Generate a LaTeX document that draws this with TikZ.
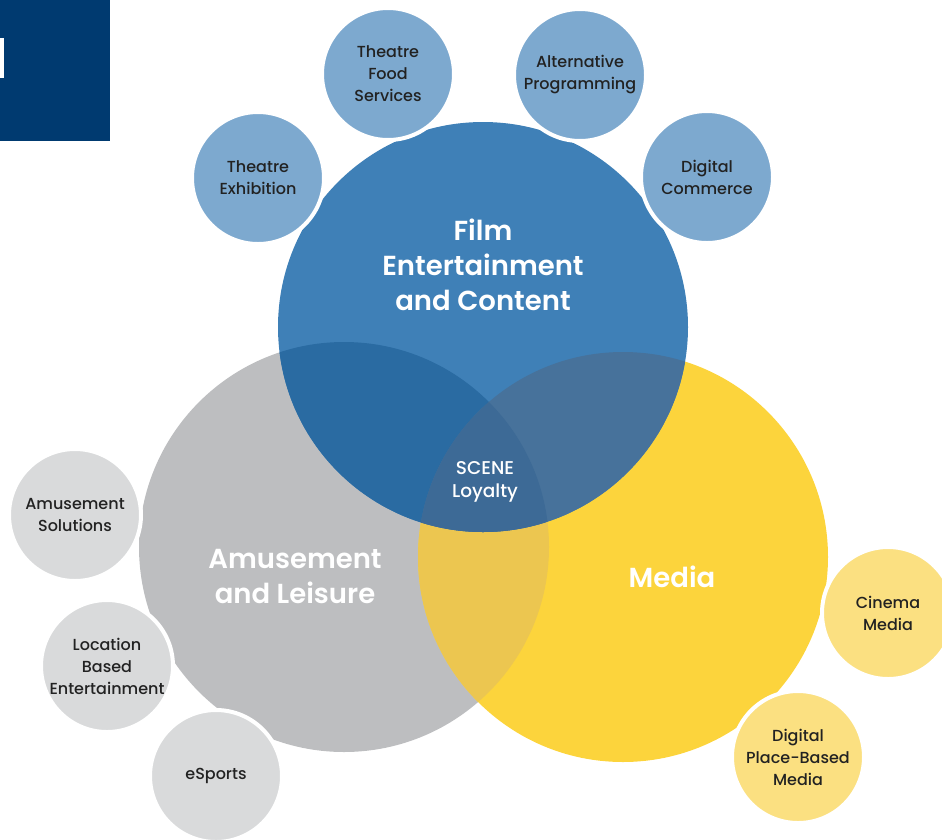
\documentclass[tikz,border=0pt]{standalone}
\usepackage{fontspec}
\setmainfont{Poppins}
\IfFontExistsTF{Poppins Medium}
  {\newfontfamily\medfont{Poppins Medium}}
  {\newfontfamily\medfont{Poppins}[FakeBold=1.2]}
\IfFontExistsTF{Poppins SemiBold}
  {\newfontfamily\semifont{Poppins SemiBold}}
  {\newfontfamily\semifont{Poppins}[FakeBold=2.2]}
\usetikzlibrary{positioning}

\definecolor{navy}{HTML}{003A70}
\definecolor{filmblue}{HTML}{3F80B7}
\definecolor{leisgray}{HTML}{BDBEC0}
\definecolor{mediayel}{HTML}{FCD43C}
\definecolor{bluegray}{HTML}{2A6BA2}
\definecolor{blueyel}{HTML}{47729B}
\definecolor{grayyel}{HTML}{ECC650}
\definecolor{allthree}{HTML}{3D6A96}
\definecolor{lightblue}{HTML}{7DA9CF}
\definecolor{lightgray}{HTML}{D9DADB}
\definecolor{lightyel}{HTML}{FBE081}
\definecolor{inktext}{HTML}{222222}

\begin{document}
\begin{tikzpicture}[x=1pt,y=1pt,
  every node/.style={align=center},
  small/.style={circle,minimum size=132pt,inner sep=0pt,draw=white,line width=4pt,
    text=inktext,font=\fontsize{16}{22}\medfont},
  big/.style={text=white,font=\fontsize{27.5}{35}\semifont}]
  \useasboundingbox (0,0) rectangle (942,-839);

  %corner box
  \fill[navy] (0,0) rectangle (110,-141);
  \fill[white] (0,-38) rectangle (4,-78);

  %centres of the three big circles
  \coordinate (film) at (483,-327);
  \coordinate (leis) at (344,-547);
  \coordinate (media) at (623,-557);

  %big circles
  \fill[leisgray] (leis) circle (205);
  \fill[mediayel] (media) circle (205);
  \fill[filmblue] (film) circle (205);

  %overlaps
  \begin{scope}
    \clip (leis) circle (205);
    \fill[grayyel] (media) circle (205);
  \end{scope}
  \begin{scope}
    \clip (film) circle (205);
    \fill[bluegray] (leis) circle (205);
    \fill[blueyel] (media) circle (205);
    \clip (leis) circle (205);
    \fill[allthree] (media) circle (205);
  \end{scope}

  %big labels
  \node[big] (filmtxt) at (483,-265) {Film\\Entertainment\\and Content};
  \node[big] (leistxt) at (295,-576) {Amusement\\and Leisure};
  \node[big] (mediatxt) at (672,-577) {Media};
  \node[text=white,font=\fontsize{18.5}{23}\medfont] (scene) at (485,-482) {SCENE\\Loyalty};

  %top nodes
  \node[small,fill=lightblue] (t1) at (258,-178) {Theatre\\Exhibition};
  \node[small,fill=lightblue] (t2) at (388,-74) {Theatre\\Food\\Services};
  \node[small,fill=lightblue] (t3) at (580,-75) {Alternative\\Programming};
  \node[small,fill=lightblue] (t4) at (707,-177) {Digital\\Commerce};

  %left nodes
  \node[small,fill=lightgray] (l1) at (75,-515) {Amusement\\Solutions};
  \node[small,fill=lightgray] (l2) at (107,-666) {Location\\Based\\Entertainment};
  \node[small,fill=lightgray] (l3) at (216,-776) {eSports};

  %right nodes
  \node[small,fill=lightyel] (r1) at (888,-613) {Cinema\\Media};
  \node[small,fill=lightyel] (r2) at (798,-757) {Digital\\Place-Based\\Media};
\end{tikzpicture}
\end{document}
